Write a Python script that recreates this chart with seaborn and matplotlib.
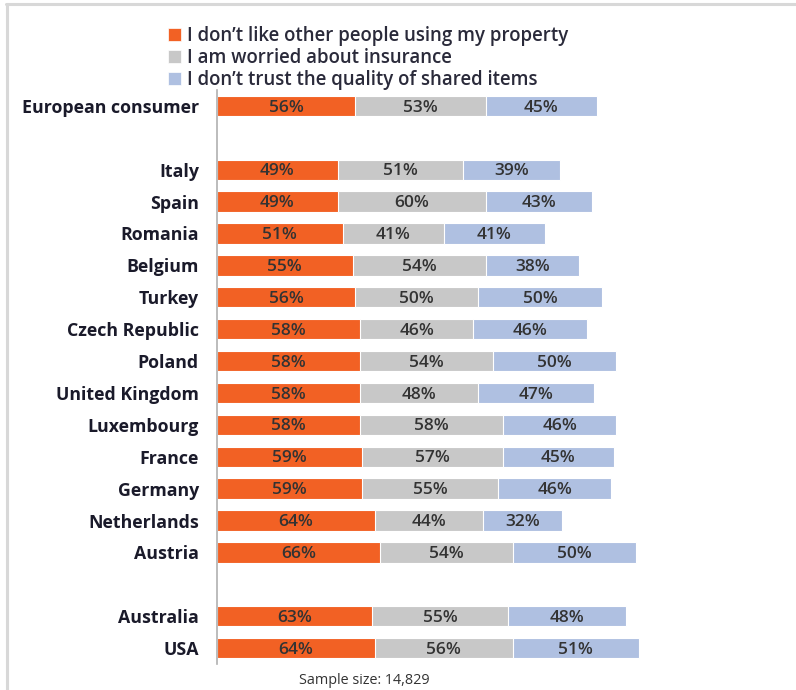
import matplotlib
matplotlib.use("Agg")
import matplotlib.pyplot as plt
from matplotlib.patches import Patch
from matplotlib.lines import Line2D
import seaborn as sns
import pandas as pd
import numpy as np

sns.set_style("white")
plt.rcParams["font.family"] = ["Open Sans", "DejaVu Sans"]

# Survey results: share of respondents giving each reason (%)
countries = ["European consumer", "Italy", "Spain", "Romania", "Belgium", "Turkey",
             "Czech Republic", "Poland", "United Kingdom", "Luxembourg", "France",
             "Germany", "Netherlands", "Austria", "Australia", "USA"]
property_use = [56, 49, 49, 51, 55, 56, 58, 58, 58, 58, 59, 59, 64, 66, 63, 64]
insurance = [53, 51, 60, 41, 54, 50, 46, 54, 48, 58, 57, 55, 44, 54, 55, 56]
quality = [45, 39, 43, 41, 38, 50, 46, 50, 47, 46, 45, 46, 32, 50, 48, 51]

series_names = ["I don’t like other people using my property",
                "I am worried about insurance",
                "I don’t trust the quality of shared items"]
colors = ["#F26124", "#C8C8C8", "#AFC0E1"]

# Row order with blank spacer rows between the groups
row_order = ["European consumer", " "] + countries[1:14] + ["  ", "Australia", "USA"]

df = pd.DataFrame({"country": countries, "p": property_use, "i": insurance, "q": quality})
df["cum1"] = df["p"]
df["cum2"] = df["p"] + df["i"]
df["cum3"] = df["p"] + df["i"] + df["q"]

fig = plt.figure(figsize=(7.96, 6.90), dpi=100)
ax = fig.add_axes([217 / 796, 1 - 664 / 690, 563 / 796, 574 / 690])

# Stacked look: draw cumulative totals from the longest to the shortest
for col, c in zip(["cum3", "cum2", "cum1"], colors[::-1]):
    sns.barplot(data=df, x=col, y="country", order=row_order, orient="h",
                color=c, saturation=1, width=0.64, edgecolor="white",
                linewidth=0.8, ax=ax)

# Value labels centred in each segment
ypos = {name: k for k, name in enumerate(row_order)}
for _, r in df.iterrows():
    y = ypos[r["country"]] + 0.05
    starts = [0, r["p"], r["p"] + r["i"]]
    vals = [r["p"], r["i"], r["q"]]
    for s, v in zip(starts, vals):
        ax.text(s + v / 2, y, f"{v}%", ha="center", va="center",
                fontsize=12.5, fontweight="semibold", color="#333333")

ax.set_xlim(0, 228.4)
ax.set_xlabel("")
ax.set_ylabel("")
ax.set_xticks([])
ax.tick_params(axis="y", length=0, pad=13)
for lbl in ax.get_yticklabels():
    lbl.set_fontsize(12.8)
    lbl.set_fontweight("bold")
    lbl.set_color("#1a1a2a")
for side in ["top", "right", "bottom"]:
    ax.spines[side].set_visible(False)
ax.spines["left"].set_color("#b0b0b0")
ax.spines["left"].set_linewidth(1.2)

handles = [Patch(facecolor=c, edgecolor="white", linewidth=0.5) for c in colors]
fig.legend(handles, series_names, loc="upper left",
           bbox_to_anchor=(168 / 796, 1 - 26 / 690), frameon=False,
           handlelength=0.7, handleheight=0.7, handletextpad=0.3,
           labelspacing=0.1, borderaxespad=0, borderpad=0,
           prop={"size": 13.4, "weight": "semibold"}, labelcolor="#2a2a3a")

fig.text(364 / 796, 1 - 680 / 690, "Sample size: 14,829", ha="center", va="center",
         fontsize=10.4, color="#333333")

# Light frame along the top and left edges
fig.add_artist(Line2D([6 / 796, 1], [1 - 4 / 690, 1 - 4 / 690], color="#d8d8d8",
                      linewidth=2.2, transform=fig.transFigure))
fig.add_artist(Line2D([7 / 796, 7 / 796], [0, 1 - 4 / 690], color="#d8d8d8",
                      linewidth=2.2, transform=fig.transFigure))

fig.savefig("out.png", dpi=100)
